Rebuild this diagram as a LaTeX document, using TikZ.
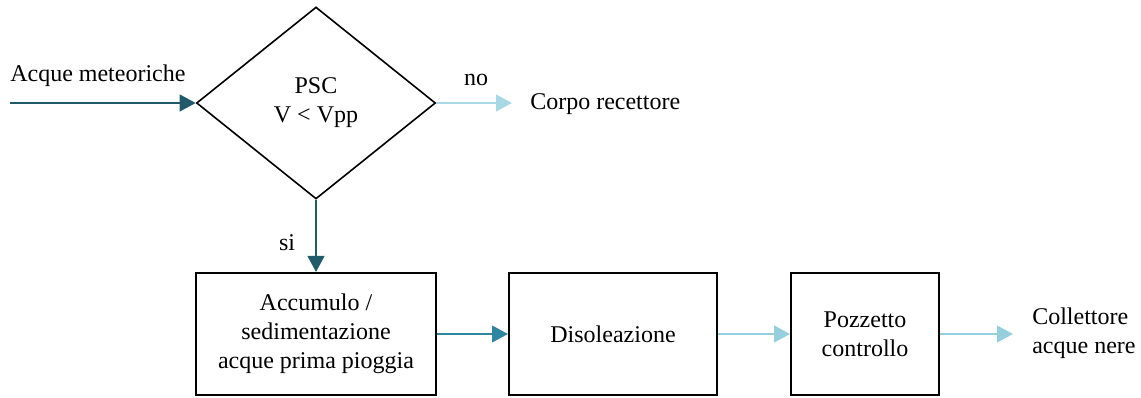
\documentclass[tikz,border=0pt]{standalone}
\usepackage{fontspec}
\setmainfont{Liberation Serif}
\usetikzlibrary{shapes.geometric,arrows.meta}
\definecolor{tealdark}{HTML}{215B6A}
\definecolor{tealmid}{HTML}{2F86A0}
\definecolor{teallight}{HTML}{95CFDE}
\definecolor{teallighter}{HTML}{A9D8E5}
\begin{document}
\begin{tikzpicture}[x=0.75pt,y=-0.75pt,
  every node/.style={font=\rmfamily\fontsize{18}{21.75}\selectfont},
  stepbox/.style={draw=black,line width=1.5pt,rectangle,minimum height=91.5pt,align=center,inner sep=0pt},
  decision/.style={draw=black,line width=1.2pt,diamond,minimum width=179.25pt,minimum height=144pt,align=center,inner sep=0pt},
  lbl/.style={inner sep=0pt},
  flow/.style={line width=1.6pt,-{Triangle[length=12pt,width=12.5pt]}},
  fdark/.style={flow,draw=tealdark,fill=tealdark},
  fmid/.style={flow,draw=tealmid,fill=tealmid},
  flight/.style={flow,draw=teallight,fill=teallight},
  flighter/.style={flow,draw=teallighter,fill=teallighter}]
\useasboundingbox (0,0) rectangle (1141,398);
\node[decision] (psc) at (316,103) {PSC\\V < Vpp};
\node[stepbox,minimum width=180pt] (acc) at (316,334) {Accumulo /\\sedimentazione\\acque prima pioggia};
\node[stepbox,minimum width=156pt] (dis) at (613,334) {Disoleazione};
\node[stepbox,minimum width=111pt] (poz) at (865,334) {Pozzetto\\controllo};
\node[lbl,anchor=west] (meteo) at (10,76) {Acque meteoriche};
\node[lbl] (no) at (476,80) {no};
\node[lbl,anchor=west] (corpo) at (530,104) {Corpo recettore};
\node[lbl] (si) at (287,243) {si};
\node[lbl,anchor=west,align=left] (coll) at (1032,333) {Collettore\\acque nere};
\coordinate (start) at (10,103);
\coordinate (noend) at (512,103);
\coordinate (collend) at (1013,334);
\draw[fdark] (start) -- (psc.west);
\draw[flighter] (psc.east) -- (noend);
\draw[fdark] (psc.south) -- (acc.north);
\draw[fmid] (acc.east) -- (dis.west);
\draw[flight] (dis.east) -- (poz.west);
\draw[flight] (poz.east) -- (collend);
\end{tikzpicture}
\end{document}
